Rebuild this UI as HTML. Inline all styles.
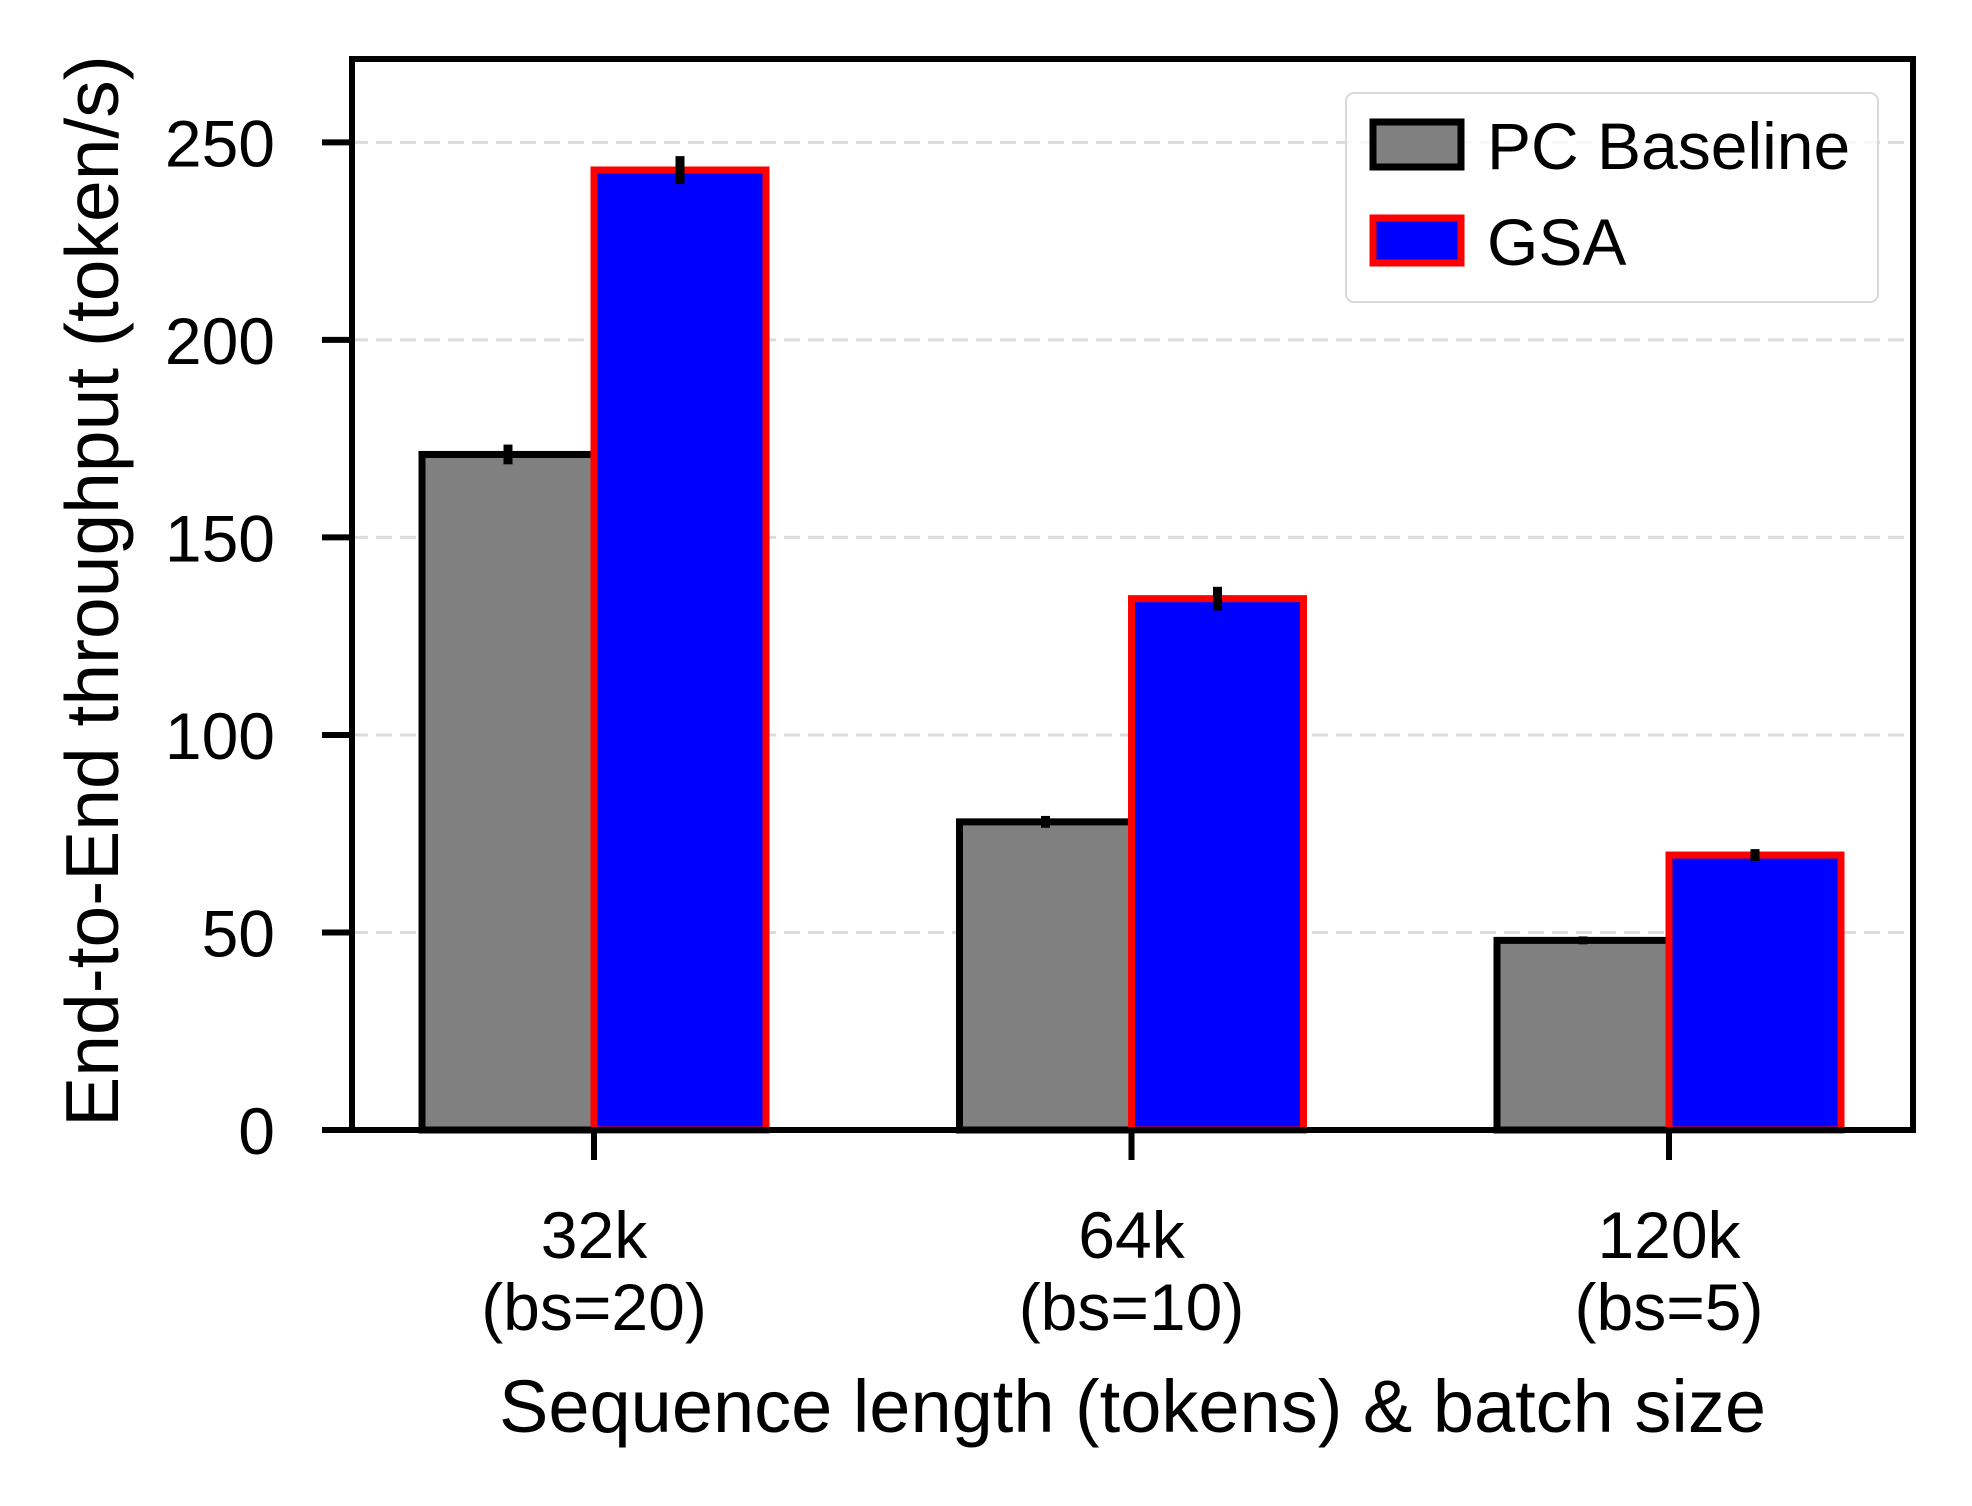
<!DOCTYPE html>
<html><head><meta charset="utf-8"><style>
html,body{margin:0;padding:0;background:#fff}
svg{display:block;font-family:"Liberation Sans",Arial,sans-serif}
</style></head><body>
<svg id="chart" width="1972" height="1506" viewBox="0 0 1972 1506"></svg>
<script>
const categories = ["32k", "64k", "120k"];
const subLabels = ["(bs=20)", "(bs=10)", "(bs=5)"];
const baselineValues = [171, 78, 48];
const baselineErr = [2.5, 1.5, 1];
const gsaValues = [243, 134.5, 69.6];
const gsaErr = [3.5, 3, 1.5];
const yTicks = [0, 50, 100, 150, 200, 250];

const NS = "http://www.w3.org/2000/svg";
const svg = document.getElementById("chart");
const L = 352, R = 1913, T = 59, B = 1130;
const yMax = 271.1;
function y(v){ return B - v/yMax*(B-T); }
function xc(i){ return 594 + i*537.5; }
const barW = 172;
function mk(tag, attrs, parent){ const e=document.createElementNS(NS,tag); for(const k in attrs) e.setAttribute(k,attrs[k]); (parent||svg).appendChild(e); return e; }

yTicks.forEach((t,i)=>{
  if(t>0){
    const g = mk("line",{x1:L,x2:R,y1:y(t),y2:y(t),stroke:"#dcdcdc","stroke-width":3,"stroke-dasharray":"16 8"});
    
    
  }
  const tk = mk("line",{x1:L-30,x2:L,y1:y(t),y2:y(t),stroke:"#000","stroke-width":6});
  
  
  const tl = mk("text",{x:275,y:y(t)+24,"text-anchor":"end","font-size":66,fill:"#000"});
  tl.textContent = t;
  
  
});

categories.forEach((c,i)=>{
  const cx = xc(i);
  const b = mk("rect",{x:cx-barW,y:y(baselineValues[i]),width:barW,height:B-y(baselineValues[i]),fill:"#808080",stroke:"#000","stroke-width":7});
  
  
  const g = mk("rect",{x:cx,y:y(gsaValues[i]),width:barW,height:B-y(gsaValues[i]),fill:"#0000ff",stroke:"#ff0000","stroke-width":7});
  
  
  const e1 = mk("line",{x1:cx-barW/2,x2:cx-barW/2,y1:y(baselineValues[i]-baselineErr[i]),y2:y(baselineValues[i]+baselineErr[i]),stroke:"#000","stroke-width":9});
  
  
  const e2 = mk("line",{x1:cx+barW/2,x2:cx+barW/2,y1:y(gsaValues[i]-gsaErr[i]),y2:y(gsaValues[i]+gsaErr[i]),stroke:"#000","stroke-width":9});
  
  
  const tk = mk("line",{x1:cx,x2:cx,y1:B,y2:B+30,stroke:"#000","stroke-width":6});
  
  
  const t1 = mk("text",{x:cx,y:1258,"text-anchor":"middle","font-size":66,fill:"#000"});
  t1.textContent = c;
  
  
  const t2 = mk("text",{x:cx,y:1330,"text-anchor":"middle","font-size":66,fill:"#000"});
  t2.textContent = subLabels[i];
  
  
});

const fr = mk("rect",{x:L,y:T,width:R-L,height:B-T,fill:"none",stroke:"#000","stroke-width":6});



const xt = mk("text",{x:(L+R)/2,y:1432,"text-anchor":"middle","font-size":74,fill:"#000"});
xt.textContent = "Sequence length (tokens) & batch size";


const yt = mk("text",{x:0,y:0,"text-anchor":"middle","font-size":75,fill:"#000",transform:"translate(118,591) rotate(-90)"});
yt.textContent = "End-to-End throughput (token/s)";



const lg = mk("g",{});


mk("rect",{x:1346,y:93,width:532,height:209,rx:8,fill:"#fff","fill-opacity":0.8,stroke:"#d9d9d9","stroke-width":2},lg);
const p1 = mk("rect",{x:1373,y:122,width:88,height:45,fill:"#808080",stroke:"#000","stroke-width":7},lg);


const l1 = mk("text",{x:1487,y:169,"font-size":66,fill:"#000"},lg);
l1.textContent = "PC Baseline";


const p2 = mk("rect",{x:1373,y:218,width:88,height:45,fill:"#0000ff",stroke:"#ff0000","stroke-width":7},lg);


const l2 = mk("text",{x:1487,y:265,"font-size":66,fill:"#000"},lg);
l2.textContent = "GSA";


</script>
</body></html>
